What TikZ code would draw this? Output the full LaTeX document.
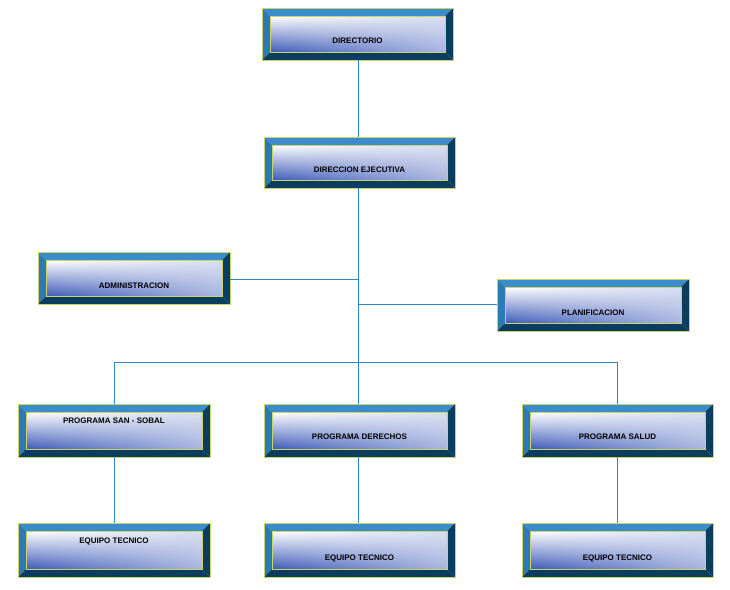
\documentclass[tikz,border=0pt]{standalone}
\usepackage{fontspec}
\setmainfont{Liberation Sans}
\usetikzlibrary{shadings}
\definecolor{bvtop}{HTML}{3A8CCB}
\definecolor{bvleft}{HTML}{2E78B4}
\definecolor{bvdark}{HTML}{0B3D5E}
\definecolor{inblue}{HTML}{3E5BB8}
\definecolor{edge}{HTML}{C8D46A}
\definecolor{ln}{HTML}{2F86C8}
\tikzset{
  conn/.style={draw=ln, line width=0.8pt},
  lbl/.style={font=\bfseries\fontsize{8}{10}\selectfont, text=black},
  holder/.style={inner sep=0pt, draw=none}
}
% #1 name, #2 x1, #3 y1, #4 x2, #5 y2, #6 text, #7 text y
\newcommand\bevbox[7]{%
  \fill[bvtop] (#2,#3) -- (#4,#3) -- (#4-8,#3+8) -- (#2+8,#3+8) -- cycle;
  \fill[bvleft] (#2,#3) -- (#2+8,#3+8) -- (#2+8,#5-8) -- (#2,#5) -- cycle;
  \fill[bvdark] (#4,#3) -- (#4,#5) -- (#4-8,#5-8) -- (#4-8,#3+8) -- cycle;
  \fill[bvdark] (#2,#5) -- (#4,#5) -- (#4-8,#5-8) -- (#2+8,#5-8) -- cycle;
  \shade[lower left=inblue, upper left=white, upper right=white!80!inblue, lower right=white!55!inblue] (#2+8,#3+8) rectangle (#4-8,#5-8);
  \draw[edge, line width=0.6pt] (#2,#3) rectangle (#4,#5);
  \draw[edge, line width=0.6pt] (#2+8,#3+8) rectangle (#4-8,#5-8);
  \node[holder, minimum width=#4-#2, minimum height=#5-#3] (#1) at ({(#2+#4)/2},{(#3+#5)/2}) {};
  \node[lbl] (#1-t) at ({(#2+#4)/2},#7) {#6};
}
\begin{document}
\begin{tikzpicture}[x=1pt,y=-1pt]
\useasboundingbox (0,0) rectangle (730,589);
\bevbox{dir}{262}{8}{453}{60}{DIRECTORIO}{41}
\bevbox{dej}{264}{137}{455}{188}{DIRECCION EJECUTIVA}{170}
\bevbox{adm}{38}{252}{230}{304}{ADMINISTRACION}{286}
\bevbox{pla}{497}{279}{689}{331}{PLANIFICACION}{313}
\bevbox{pss}{18}{404}{210}{457}{PROGRAMA SAN - SOBAL}{421}
\bevbox{pde}{264}{404}{455}{457}{PROGRAMA DERECHOS}{437}
\bevbox{psa}{522}{404}{713}{457}{PROGRAMA SALUD}{437}
\bevbox{eq1}{18}{523}{210}{577}{EQUIPO TECNICO}{541}
\bevbox{eq2}{264}{523}{455}{577}{EQUIPO TECNICO}{558}
\bevbox{eq3}{522}{523}{713}{577}{EQUIPO TECNICO}{558}
\coordinate (ja) at (358,279);
\coordinate (jp) at (358,304);
\coordinate (hl) at (114,362);
\coordinate (hr) at (617,362);
\draw[conn] (dir.south -| 358,0) -- (dej.north -| 358,0);
\draw[conn] (dej.south -| 358,0) -- (pde.north -| 358,0);
\draw[conn] (adm.east |- ja) -- (ja);
\draw[conn] (jp) -- (pla.west |- jp);
\draw[conn] (hl) -- (hr);
\draw[conn] (hl) -- (pss.north -| hl);
\draw[conn] (hr) -- (psa.north -| hr);
\draw[conn] (pss.south -| hl) -- (eq1.north -| hl);
\draw[conn] (pde.south -| 358,0) -- (eq2.north -| 358,0);
\draw[conn] (psa.south -| hr) -- (eq3.north -| hr);
\end{tikzpicture}
\end{document}
